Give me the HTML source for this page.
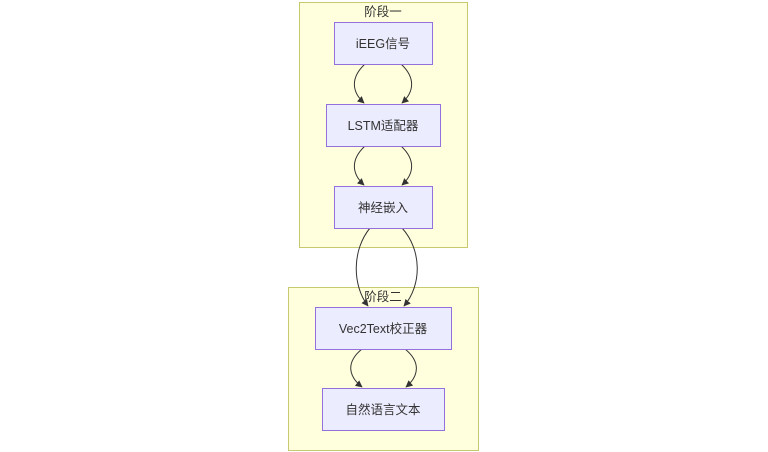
<!DOCTYPE html>
<html><head><meta charset="utf-8"><style>
html,body{margin:0;padding:0;background:#fff;width:768px;height:452px;overflow:hidden}
svg text{font-family:"Liberation Sans","Noto Sans CJK SC",sans-serif;font-size:12.5px;fill:#333}
</style></head><body>
<svg width="768" height="452" viewBox="0 0 768 452" xmlns="http://www.w3.org/2000/svg">
<defs><marker id="a" viewBox="0 0 10 10" refX="9" refY="5" markerWidth="7" markerHeight="7" orient="auto"><path d="M0,0L10,5L0,10z" fill="#333"/></marker></defs>
<rect x="299.5" y="2.5" width="168" height="245" fill="#ffffde" stroke="#c8c86e"/>
<rect x="288.5" y="287.5" width="190" height="163" fill="#ffffde" stroke="#c8c86e"/>
<text x="383" y="16" text-anchor="middle">阶段一</text>
<text x="383" y="301" text-anchor="middle">阶段二</text>
<g fill="none" stroke="#333" stroke-width="1" marker-end="url(#a)">
<path d="M365,64 C350,78 352,92 364,103"/>
<path d="M401,64 C416,78 414,92 402,103"/>
<path d="M365,146 C350,160 352,174 364,185"/>
<path d="M401,146 C416,160 414,174 402,185"/>
<path d="M370,228 C352,250 352,285 368,306"/>
<path d="M402,228 C422,250 422,285 404,306"/>
<path d="M362,349 C346,362 348,376 362,387"/>
<path d="M405,349 C421,362 419,376 406,387"/>
</g>
<g fill="#ececff" stroke="#9370db">
<rect x="334.5" y="22.5" width="98" height="42"/>
<rect x="326.5" y="104.5" width="114" height="42"/>
<rect x="334.5" y="186.5" width="98" height="42"/>
<rect x="315.5" y="307.5" width="136" height="42"/>
<rect x="322.5" y="388.5" width="122" height="42"/>
</g>
<text x="383" y="48" text-anchor="middle">iEEG信号</text>
<text x="383" y="130" text-anchor="middle">LSTM适配器</text>
<text x="383" y="212" text-anchor="middle">神经嵌入</text>
<text x="383" y="333" text-anchor="middle">Vec2Text校正器</text>
<text x="383" y="414" text-anchor="middle">自然语言文本</text>
</svg>
</body></html>
